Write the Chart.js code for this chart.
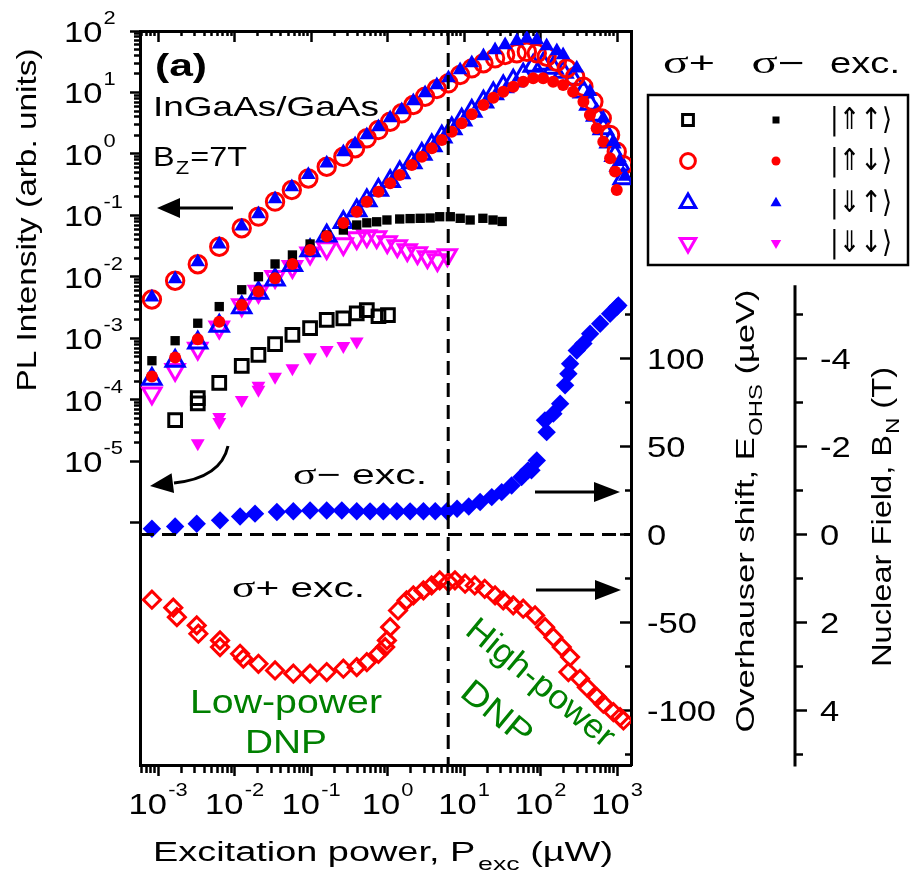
<!DOCTYPE html>
<html lang="en">
<head>
<meta charset="UTF-8">
<title>PL intensity and Overhauser shift vs excitation power</title>
<style>
  html, body { margin: 0; padding: 0; background: #ffffff; }
  canvas { display: block; }
</style>
</head>
<body>
<canvas id="plChart" width="912" height="875"></canvas>
<script src="https://cdn.jsdelivr.net/npm/chart.js"></script>
<script>
// ---- values ----
// P_exc in µW, PL intensity in arb. units. plus/minus = σ+/σ− excitation,
// UU = |⇑↑⟩, UD = |⇑↓⟩, DU = |⇓↑⟩, DD = |⇓↓⟩

const powerPlusUU = [1.67e-3, 3.3e-3, 3.3e-3, 6.3e-3, 0.0124, 0.0205, 0.0338, 0.057, 0.097, 0.16, 0.264, 0.395, 0.535, 0.76, 1.01];
const plPlusUU = [4.7e-5, 1.07e-4, 8.8e-5, 1.9e-4, 3.6e-4, 5.4e-4, 8.1e-4, 1.14e-3, 1.47e-3, 2.0e-3, 2.13e-3, 2.57e-3, 2.9e-3, 2.3e-3, 2.4e-3];

const powerMinusUU = [8.3e-4, 1.67e-3, 3.3e-3, 6.3e-3, 0.0124, 0.0205, 0.0338, 0.057, 0.097, 0.16, 0.264, 0.395, 0.535, 0.72, 0.98, 1.44, 1.97, 2.67, 3.6, 4.8, 6.6, 8.9, 12.0, 17.6, 23.9, 31.5];
const plMinusUU = [4.35e-4, 9.2e-4, 1.77e-3, 3.3e-3, 6.2e-3, 0.0101, 0.0163, 0.0228, 0.0344, 0.048, 0.058, 0.070, 0.076, 0.079, 0.0845, 0.0877, 0.089, 0.090, 0.091, 0.0955, 0.0955, 0.090, 0.0845, 0.090, 0.0845, 0.080];

const powerPlusUD = [8.3e-4, 1.67e-3, 3.3e-3, 6.3e-3, 0.0124, 0.0205, 0.0338, 0.056, 0.092, 0.16, 0.264, 0.376, 0.535, 0.759, 1.08, 1.53, 2.17, 3.09, 4.40, 6.24, 8.87, 12.6, 17.9, 25.4, 34.4, 48.9, 66.1, 89.2, 120, 163, 220, 283, 363, 490, 631, 810, 990, 1210];
const plPlusUD = [4.3e-3, 8.7e-3, 0.0161, 0.031, 0.062, 0.096, 0.168, 0.26, 0.40, 0.62, 0.90, 1.24, 1.80, 2.45, 3.35, 4.59, 6.26, 8.55, 11.4, 14.1, 19.3, 24.7, 29.9, 36.0, 40.7, 43.4, 46.1, 43.4, 38.2, 31.7, 24.7, 18.1, 12.4, 7.1, 3.8, 2.04, 1.09, 0.66];

const powerMinusUD = [8.3e-4, 1.67e-3, 3.3e-3, 6.3e-3, 0.0124, 0.0205, 0.0338, 0.057, 0.097, 0.16, 0.264, 0.395, 0.535, 0.759, 1.08, 1.44, 2.07, 2.80, 3.78, 5.11, 6.9, 9.3, 12.6, 17.9, 24.1, 32.5, 43.9, 59.2, 80, 108, 146, 197, 266, 363, 441, 541, 660, 810, 940, 990];
const plMinusUD = [2.4e-4, 4.9e-4, 9.7e-4, 1.87e-3, 3.5e-3, 5.8e-3, 9.5e-3, 0.0163, 0.0275, 0.046, 0.0755, 0.115, 0.168, 0.244, 0.334, 0.456, 0.662, 0.90, 1.24, 1.69, 2.31, 3.16, 4.42, 6.26, 8.23, 10.3, 12.4, 15.0, 17.0, 17.0, 15.0, 13.2, 10.3, 7.08, 4.31, 2.62, 1.58, 0.85, 0.52, 0.26];

const powerPlusDU = [8.3e-4, 1.67e-3, 3.3e-3, 6.3e-3, 0.0124, 0.0205, 0.0338, 0.057, 0.097, 0.16, 0.264, 0.395, 0.535, 0.759, 1.08, 1.44, 2.07, 2.80, 3.78, 5.11, 6.9, 9.3, 12.6, 17.9, 24.1, 32.5, 43.9, 59.2, 80, 108, 146, 197, 266, 363, 441, 541, 660, 810, 940, 1094, 1200];
const plPlusDU = [2.2e-4, 4.3e-4, 8.5e-4, 1.6e-3, 3.2e-3, 5.5e-3, 9.0e-3, 0.0155, 0.027, 0.047, 0.078, 0.12, 0.175, 0.26, 0.36, 0.50, 0.73, 1.0, 1.38, 1.9, 2.6, 3.6, 5.0, 7.1, 9.6, 12.5, 15.5, 19.5, 27, 29, 25, 21.5, 16.5, 10.3, 6.5, 4.3, 2.6, 1.58, 0.95, 0.66, 0.40];

const powerMinusDU = [8.3e-4, 1.67e-3, 3.3e-3, 6.3e-3, 0.0124, 0.0205, 0.0338, 0.056, 0.092, 0.16, 0.264, 0.376, 0.535, 0.759, 1.08, 1.53, 2.17, 3.09, 4.40, 6.24, 8.87, 12.6, 17.9, 25.4, 34.4, 48.9, 66.1, 89.2, 120, 163, 197, 297, 441, 660, 895, 1094, 1274];
const plMinusDU = [4.7e-3, 9.3e-3, 0.0175, 0.034, 0.067, 0.106, 0.185, 0.29, 0.46, 0.71, 1.08, 1.46, 2.04, 2.75, 3.85, 5.19, 7.27, 9.8, 13.2, 17.2, 23.2, 30.2, 39.2, 49.1, 59.2, 68.7, 75.5, 71.5, 57.0, 47.3, 40.7, 24.7, 10.3, 3.8, 1.58, 0.75, 0.43];

const powerPlusDD = [8.3e-4, 1.67e-3, 3.3e-3, 6.3e-3, 0.0124, 0.0205, 0.0338, 0.057, 0.097, 0.16, 0.264, 0.395, 0.535, 0.72, 0.99, 1.34, 1.81, 2.46, 3.32, 4.48, 6.05];
const plPlusDD = [1.29e-4, 3.1e-4, 6.9e-4, 1.52e-3, 3.5e-3, 5.8e-3, 0.0101, 0.0147, 0.0243, 0.0297, 0.0344, 0.043, 0.0464, 0.0447, 0.037, 0.0319, 0.0275, 0.0245, 0.0211, 0.0189, 0.0228];

const powerMinusDD = [3.3e-3, 6.3e-3, 6.3e-3, 0.0124, 0.0205, 0.0205, 0.0338, 0.057, 0.097, 0.16, 0.264, 0.395];
const plMinusDD = [1.98e-5, 5.3e-5, 4.4e-5, 1.0e-4, 1.7e-4, 1.46e-4, 2.39e-4, 3.27e-4, 4.94e-4, 6.5e-4, 7.55e-4, 8.9e-4];

// Overhauser shift E_OHS (µeV)
const powerOhsMinus = [8.3e-4, 1.67e-3, 3.2e-3, 6.45e-3, 0.0118, 0.0185, 0.0357, 0.0586, 0.097, 0.16, 0.252, 0.395, 0.59, 0.88, 1.32, 1.97, 2.94, 4.2, 5.97, 8.1, 11.5, 16.2, 23.0, 31.0, 41.8, 56.4, 68.7, 76, 89.2, 114, 120, 147, 180, 209, 231, 243, 297, 363, 444, 600, 810, 990, 1040];
const ohsMinus = [3.2, 4.5, 6.1, 8.0, 10.2, 11.8, 12.7, 13.2, 13.6, 13.6, 13.6, 13.2, 13.1, 13.1, 13.2, 13.1, 13.2, 13.2, 13.2, 14.6, 15.9, 18.4, 21.2, 24.0, 27.8, 32.6, 36.4, 36.4, 42.0, 64.8, 58.1, 68.6, 74.3, 84.7, 91.3, 97.0, 104.5, 108.4, 114.0, 119.7, 125.4, 129.1, 130.1];

const powerOhsPlus = [8.3e-4, 1.58e-3, 1.76e-3, 3.2e-3, 3.36e-3, 6.45e-3, 6.45e-3, 0.0118, 0.0130, 0.0205, 0.0338, 0.0586, 0.097, 0.16, 0.264, 0.395, 0.535, 0.759, 0.93, 0.98, 1.08, 1.37, 1.77, 2.17, 2.94, 3.76, 4.8, 6.24, 7.6, 10.3, 13.8, 18.6, 25.4, 32.5, 43.9, 59.2, 84.7, 114.5, 147, 189, 243, 231, 328, 402, 544, 660, 895, 1094, 1210];
const ohsPlus = [-37.1, -41.6, -47.0, -51.7, -56.4, -60.2, -64.0, -67.8, -70.6, -73.5, -77.3, -79.1, -79.1, -78.2, -76.3, -75.4, -72.6, -67.8, -64.0, -60.2, -52.7, -43.2, -37.5, -34.7, -31.8, -29.0, -26.1, -27.1, -26.1, -28.0, -29.0, -30.9, -34.7, -37.5, -40.3, -42.2, -46.0, -52.7, -58.4, -64.0, -69.7, -78.2, -82.0, -86.8, -92.4, -96.2, -101.0, -103.8, -105.7];

// axes
const powerRange = [5.8e-4, 1.52e3];
const plRange = [1.16e-10, 1e2];
const ohsRange = [-131, 286];
const uevPerTesla = 25;          // B_N = -E_OHS / 25
const nuclearAxisTop = -5.66;    // B_N axis line starts here (T)
const dnpSplitPower = 6.2;       // dashed line, µW

const powerTickExps = [-3, -2, -1, 0, 1, 2, 3];
const plTickExps = [-5, -4, -3, -2, -1, 0, 1, 2];
const ohsTickLabels = [-100, -50, 0, 50, 100];
const bnTickLabels = [-4, -2, 0, 2, 4];
const ketLabels = ['|⇑↑⟩', '|⇑↓⟩', '|⇓↑⟩', '|⇓↓⟩'];

// ---- marker styles ----
const RED = '#ff0000', BLUE = '#0000ff', MAGENTA = '#ff00ff', BLACK = '#000000', GREEN = '#008000';
const OPEN_WIDTH = 3;
const styles = {
  plusUU:  { pointStyle: 'rect', radius: 9, color: BLACK, open: true },
  minusUU: { pointStyle: 'rect', radius: 6.6, color: BLACK },
  plusUD:  { pointStyle: 'circle', radius: 8.7, color: RED, open: true },
  minusUD: { pointStyle: 'circle', radius: 6, color: RED },
  plusDU:  { pointStyle: 'triangle', radius: 10.5, color: BLUE, open: true },
  minusDU: { pointStyle: 'triangle', radius: 8.5, color: BLUE },
  plusDD:  { pointStyle: 'triangle', radius: 10.5, rotation: 180, color: MAGENTA, open: true },
  minusDD: { pointStyle: 'triangle', radius: 8, rotation: 180, color: MAGENTA },
  ohsMinus: { pointStyle: 'rectRot', radius: 9.2, color: BLUE },
  ohsPlus:  { pointStyle: 'rectRot', radius: 8.5, color: RED, open: true }
};

function markerSet(label, px, py, st, yAxis) {
  return {
    label: label,
    data: px.map((p, i) => ({ x: p, y: py[i] })),
    yAxisID: yAxis,
    showLine: false,
    pointStyle: st.pointStyle,
    pointRadius: st.radius,
    pointHoverRadius: st.radius,
    pointRotation: st.rotation || 0,
    pointBorderWidth: st.open ? OPEN_WIDTH : 0,
    pointBorderColor: st.color,
    pointBackgroundColor: st.open ? 'rgba(0,0,0,0)' : st.color
  };
}

// ticks
function logTicks(fromExp, toExp, lo, hi) {
  const out = [];
  for (let e = fromExp; e <= toExp; e++) {
    for (let k = 1; k <= 9; k++) {
      const v = k * Math.pow(10, e);
      if (v >= lo && v <= hi) out.push({ value: v, major: k === 1 });
    }
  }
  return out;
}
const powerTicks = logTicks(-4, 3, 5.9e-4, 1001);
const plTicks = [{ value: 1e-6, major: true }].concat(logTicks(-5, 2, 0.99e-5, 101));
const ohsTicks = [];
for (let v = -125; v <= 125; v += 25) ohsTicks.push({ value: v, major: v % 50 === 0 });
const bnTicks = [];
for (let v = -5; v <= 5; v++) bnTicks.push({ value: v, major: v % 2 === 0 });

// minor ticks are shortened with a dash pattern: either from the axis line or skipping the far end
function tickGrid(len, minorDash) {
  return {
    display: true,
    drawOnChartArea: false,
    drawTicks: true,
    tickLength: len,
    tickWidth: 2.5,
    tickColor: BLACK,
    tickBorderDash: (c) => (c.tick && c.tick.major) ? [] : minorDash
  };
}
const axisBorder = { display: true, color: BLACK, width: 3 };

// ---- text helpers ----
const SANS = "'Liberation Sans', Arial, 'DejaVu Sans', sans-serif";
const SERIF = "'Liberation Serif', 'Times New Roman', serif";
const TEXT_SX = 1.15;
function font(size, family, weight) { return (weight ? weight + ' ' : '') + size + 'px ' + (family || SANS); }

function drawText(ctx, runs, x, y, o) {
  o = o || {};
  ctx.save();
  ctx.fillStyle = o.color || BLACK;
  ctx.textAlign = 'left';
  ctx.textBaseline = o.baseline || 'alphabetic';
  let total = 0;
  const ws = runs.map(r => {
    ctx.font = r.font;
    const w = ctx.measureText(r.text).width + (r.gap || 0);
    total += w;
    return w;
  });
  const sx = o.width ? o.width / total : (o.sx || TEXT_SX);
  ctx.translate(x, y);
  if (o.angle) ctx.rotate(o.angle);
  ctx.scale(sx, 1);
  let cx = o.align === 'center' ? -total / 2 : (o.align === 'right' ? -total : 0);
  runs.forEach((r, i) => {
    ctx.font = r.font;
    ctx.fillText(r.text, cx + (r.gap || 0), r.dy || 0);
    cx += ws[i];
  });
  ctx.restore();
}

function pow10Runs(e) {
  return [{ text: '10', font: font(30) }, { text: String(e), font: font(19), dy: -18, gap: 1 }];
}

function arrow(ctx, x1, y1, x2, y2, len, half) {
  const a = Math.atan2(y2 - y1, x2 - x1);
  const bx = x2 - len * Math.cos(a), by = y2 - len * Math.sin(a);
  ctx.beginPath(); ctx.moveTo(x1, y1); ctx.lineTo(bx, by); ctx.stroke();
  arrowHead(ctx, x2, y2, a, len, half);
}
function arrowHead(ctx, x, y, a, len, half) {
  const bx = x - len * Math.cos(a), by = y - len * Math.sin(a);
  ctx.beginPath();
  ctx.moveTo(x, y);
  ctx.lineTo(bx + half * Math.sin(a), by - half * Math.cos(a));
  ctx.lineTo(bx - half * Math.sin(a), by + half * Math.cos(a));
  ctx.closePath();
  ctx.fill();
}

function drawMarker(ctx, st, x, y, k) {
  ctx.save();
  ctx.fillStyle = st.open ? 'rgba(0,0,0,0)' : st.color;
  ctx.strokeStyle = st.color;
  ctx.lineWidth = OPEN_WIDTH;
  Chart.helpers.drawPoint(ctx, {
    pointStyle: st.pointStyle, rotation: st.rotation || 0,
    radius: st.radius * k, borderWidth: st.open ? OPEN_WIDTH : 0
  }, x, y);
  ctx.restore();
}

const figureOverlay = {
  id: 'figureOverlay',
  afterDatasetsDraw(chart) {
    const { ctx, chartArea: a, scales: s } = chart;
    ctx.save();
    ctx.strokeStyle = BLACK;
    ctx.fillStyle = BLACK;
    ctx.lineWidth = 3;
    ctx.setLineDash([14, 8]);
    const xs = s.x.getPixelForValue(dnpSplitPower);
    ctx.beginPath(); ctx.moveTo(xs, a.top); ctx.lineTo(xs, a.bottom); ctx.stroke();
    const y0 = s.yR.getPixelForValue(0);
    ctx.beginPath(); ctx.moveTo(a.left, y0); ctx.lineTo(a.right, y0); ctx.stroke();
    ctx.setLineDash([]);

    // arrows pointing at the axis each group belongs to
    arrow(ctx, 233, 208, 157, 208, 23, 10);
    ctx.beginPath(); ctx.moveTo(228, 446); ctx.quadraticCurveTo(221, 478, 174, 483); ctx.stroke();
    arrowHead(ctx, 150, 486, Math.atan2(486 - 483, 150 - 174), 23, 10);
    arrow(ctx, 535, 492, 620, 492, 26, 10);
    arrow(ctx, 536, 590, 621, 590, 26, 10);
    ctx.restore();

    drawText(ctx, [{ text: '(a)', font: font(32, SANS, 'bold') }], 155, 76, { width: 52 });
    drawText(ctx, [{ text: 'InGaAs/GaAs', font: font(28) }], 153, 116, { width: 226 });
    drawText(ctx, [{ text: 'B', font: font(28) }, { text: 'Z', font: font(19), dy: 8, gap: 1 },
      { text: '=7T', font: font(28), gap: 1 }], 153, 166, { width: 94 });
    drawText(ctx, [{ text: 'σ', font: font(30, SERIF) }, { text: '− exc.', font: font(28) }], 293, 484, { width: 134 });
    drawText(ctx, [{ text: 'σ', font: font(30, SERIF) }, { text: '+ exc.', font: font(28) }], 232, 597, { width: 133 });
    drawText(ctx, [{ text: 'Low-power', font: font(34) }], 286, 713, { align: 'center', width: 192, color: GREEN });
    drawText(ctx, [{ text: 'DNP', font: font(34) }], 286, 753, { align: 'center', width: 82, color: GREEN });
    drawText(ctx, [{ text: 'High-power', font: font(34) }], 540, 684,
      { align: 'center', width: 182, color: GREEN, angle: 0.69, baseline: 'middle' });
    drawText(ctx, [{ text: 'DNP', font: font(34) }], 496, 714,
      { align: 'center', width: 82, color: GREEN, angle: 0.69, baseline: 'middle' });
  },
  afterDraw(chart) {
    const { ctx, chartArea: a, scales: s } = chart;

    // tick labels
    powerTickExps.forEach(e => {
      drawText(ctx, pow10Runs(e), s.x.getPixelForValue(Math.pow(10, e)), a.bottom + 49, { align: 'center' });
    });
    plTickExps.forEach(e => {
      drawText(ctx, pow10Runs(e), 64, s.y.getPixelForValue(Math.pow(10, e)) + 11, {});
    });
    ohsTickLabels.forEach(v => {
      drawText(ctx, [{ text: String(v), font: font(30) }], s.yR.left + 16, s.yR.getPixelForValue(v) + 11, {});
    });
    bnTickLabels.forEach(v => {
      drawText(ctx, [{ text: String(v), font: font(30) }], s.yB.left + 25, s.yB.getPixelForValue(v) + 11, {});
    });

    // nuclear field axis line (shorter than the plot)
    ctx.save();
    ctx.strokeStyle = BLACK;
    ctx.lineWidth = 3;
    ctx.beginPath();
    ctx.moveTo(s.yB.left, s.yB.getPixelForValue(nuclearAxisTop));
    ctx.lineTo(s.yB.left, a.bottom + 1.5);
    ctx.stroke();
    ctx.restore();

    // axis titles
    drawText(ctx, [{ text: 'Excitation power, P', font: font(27) }, { text: 'exc', font: font(19), dy: 9, gap: 2 },
      { text: ' (µW)', font: font(27) }], 383, 861, { align: 'center', width: 460 });
    drawText(ctx, [{ text: 'PL Intensity (arb. units)', font: font(28) }], 36, 220,
      { align: 'center', width: 343, angle: -Math.PI / 2 });
    drawText(ctx, [{ text: 'Overhauser shift, E', font: font(26) }, { text: 'OHS', font: font(18), dy: 8, gap: 1 },
      { text: ' (µeV)', font: font(26) }], 754, 511, { align: 'center', width: 443, angle: -Math.PI / 2 });
    drawText(ctx, [{ text: 'Nuclear Field, B', font: font(28) }, { text: 'N', font: font(19), dy: 8, gap: 1 },
      { text: ' (T)', font: font(28) }], 891, 517, { align: 'center', width: 300, angle: -Math.PI / 2 });

    // legend: header, box, markers for both excitations, spin states
    drawText(ctx, [{ text: 'σ', font: font(32, SERIF) }, { text: '+', font: font(30) }], 689, 73, { align: 'center', width: 52 });
    drawText(ctx, [{ text: 'σ', font: font(32, SERIF) }, { text: '−', font: font(30) }], 778, 73, { align: 'center', width: 53 });
    drawText(ctx, [{ text: 'exc.', font: font(30) }], 865, 73, { align: 'center', width: 70 });
    ctx.save();
    ctx.strokeStyle = BLACK;
    ctx.lineWidth = 2.5;
    ctx.strokeRect(648, 95, 260, 170);
    ctx.restore();
    const rows = [120, 161, 203, 243];
    const plusStyles = [styles.plusUU, styles.plusUD, styles.plusDU, styles.plusDD];
    const minusStyles = [styles.minusUU, styles.minusUD, styles.minusDU, styles.minusDD];
    rows.forEach((ry, i) => {
      drawMarker(ctx, plusStyles[i], 688, ry, 0.85);
      drawMarker(ctx, minusStyles[i], 776, ry, 0.75);
      drawText(ctx, [{ text: ketLabels[i], font: "30px 'DejaVu Sans', sans-serif" }], 830, ry + 1,
        { width: 62, baseline: 'middle' });
    });
  }
};

new Chart(document.getElementById('plChart'), {
  type: 'scatter',
  data: {
    datasets: [
      markerSet('σ− |⇓↑⟩', powerMinusDU, plMinusDU, styles.minusDU, 'y'),
      markerSet('σ− |⇑↓⟩', powerMinusUD, plMinusUD, styles.minusUD, 'y'),
      markerSet('σ− |⇑↑⟩', powerMinusUU, plMinusUU, styles.minusUU, 'y'),
      markerSet('σ− |⇓↓⟩', powerMinusDD, plMinusDD, styles.minusDD, 'y'),
      markerSet('σ+ |⇑↓⟩', powerPlusUD, plPlusUD, styles.plusUD, 'y'),
      markerSet('σ+ |⇓↑⟩', powerPlusDU, plPlusDU, styles.plusDU, 'y'),
      markerSet('σ+ |⇑↑⟩', powerPlusUU, plPlusUU, styles.plusUU, 'y'),
      markerSet('σ+ |⇓↓⟩', powerPlusDD, plPlusDD, styles.plusDD, 'y'),
      markerSet('E_OHS σ− exc.', powerOhsMinus, ohsMinus, styles.ohsMinus, 'yR'),
      markerSet('E_OHS σ+ exc.', powerOhsPlus, ohsPlus, styles.ohsPlus, 'yR')
    ]
  },
  options: {
    responsive: false,
    animation: false,
    events: [],
    layout: { padding: 0 },
    plugins: { legend: { display: false }, tooltip: { enabled: false } },
    scales: {
      x: {
        type: 'logarithmic', axis: 'x', position: 'bottom',
        min: powerRange[0], max: powerRange[1], bounds: 'data',
        ticks: { display: false },
        grid: tickGrid(11, [6, 100]),
        border: axisBorder,
        afterBuildTicks: (sc) => { sc.ticks = powerTicks.map(t => ({ ...t })); },
        afterFit: (sc) => { sc.height = 110; }
      },
      xTop: {
        type: 'logarithmic', axis: 'x', position: 'top',
        min: powerRange[0], max: powerRange[1], bounds: 'data',
        ticks: { display: false },
        grid: tickGrid(-11, [0, 6, 100, 0]),
        border: axisBorder,
        afterBuildTicks: (sc) => { sc.ticks = powerTicks.map(t => ({ ...t })); },
        afterFit: (sc) => { sc.height = 31; }
      },
      y: {
        type: 'logarithmic', axis: 'y', position: 'left',
        min: plRange[0], max: plRange[1], bounds: 'data',
        ticks: { display: false },
        grid: tickGrid(10, [0, 4, 100, 0]),
        border: axisBorder,
        afterBuildTicks: (sc) => { sc.ticks = plTicks.map(t => ({ ...t })); },
        afterFit: (sc) => { sc.width = 140; }
      },
      yR: {
        type: 'linear', axis: 'y', position: 'right', weight: 1,
        min: ohsRange[0], max: ohsRange[1], bounds: 'data',
        ticks: { display: false },
        grid: tickGrid(-11, [8, 100]),
        border: axisBorder,
        afterBuildTicks: (sc) => { sc.ticks = ohsTicks.map(t => ({ ...t })); },
        afterFit: (sc) => { sc.width = 164; }
      },
      yB: {
        type: 'linear', axis: 'y', position: 'right', weight: 2, reverse: true,
        min: -ohsRange[1] / uevPerTesla, max: -ohsRange[0] / uevPerTesla, bounds: 'data',
        ticks: { display: false },
        grid: tickGrid(12, [8, 100]),
        border: { display: false },
        afterBuildTicks: (sc) => { sc.ticks = bnTicks.map(t => ({ ...t })); },
        afterFit: (sc) => { sc.width = 117; }
      }
    }
  },
  plugins: [figureOverlay]
});
</script>
</body>
</html>
